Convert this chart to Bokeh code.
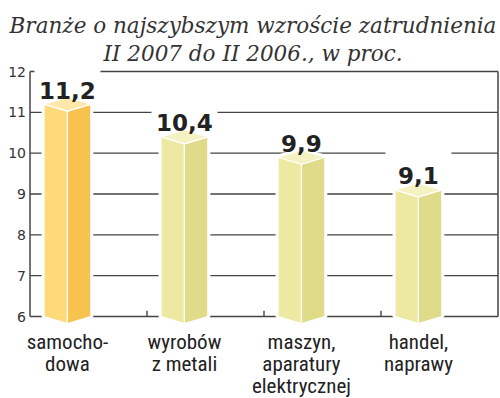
from bokeh.plotting import figure
from bokeh.models import Range1d
from bokeh.core.properties import value
from bokeh.embed import file_html
from bokeh.resources import INLINE

# ---- data ----
title_lines = ["Branże o najszybszym wzroście zatrudnienia", "II 2007 do II 2006., w proc."]
categories = ["samocho-\ndowa", "wyrobów\nz metali", "maszyn,\naparatury\nelektrycznej", "handel,\nnaprawy"]
values = [11.2, 10.4, 9.9, 9.1]
value_labels = ["11,2", "10,4", "9,9", "9,1"]
y_ticks = [6, 7, 8, 9, 10, 11, 12]
y_tick_labels = ["6", "7", "8", "9", "10", "11", "12"]
y_base = 6

# ---- styling / layout ----
left_cols = ["#FFD97A", "#EDE9A2", "#EDE9A2", "#EDE9A2"]
right_cols = ["#F8C24E", "#DFDB88", "#DFDB88", "#DFDB88"]
top_cols = ["#FFE8A8", "#F5F2C2", "#F5F2C2", "#F5F2C2"]
LINE = "#444444"

W, H = 500, 398
PPU_X = 117.0            # pixels per category
PPU_Y = 245 / 6.0        # pixels per unit
XL_WIN = 29.5            # x of category 0 edge
Y6_WIN = 316.0           # y of value 6


def dx(px):
    return (px - XL_WIN) / PPU_X


def dy(py):
    return y_base + (Y6_WIN - py) / PPU_Y


p = figure(width=W, height=H, output_backend="svg", toolbar_location=None,
           x_range=Range1d(dx(0), dx(W)), y_range=Range1d(dy(H), dy(0)),
           min_border=0)
p.outline_line_color = None
p.background_fill_color = "white"
p.border_fill_color = "white"
p.xaxis.visible = False
p.yaxis.visible = False
p.grid.visible = False

n = len(values)

# gridlines
p.segment(x0=[0] * len(y_ticks), y0=y_ticks, x1=[n] * len(y_ticks), y1=y_ticks,
          line_color=LINE, line_width=1.4)
# frame side lines and category separators
p.segment(x0=[0, n], y0=[y_base, y_base], x1=[0, n], y1=[y_ticks[-1], y_ticks[-1]],
          line_color=LINE, line_width=1.5)
seps = list(range(1, n))
p.segment(x0=seps, y0=[y_base] * len(seps), x1=seps, y1=[y_base + 5.7 / PPU_Y] * len(seps),
          line_color=LINE, line_width=1.4)

# y tick labels
p.text(x=[dx(25.5)] * len(y_ticks), y=y_ticks, text=y_tick_labels, text_align="right",
       text_baseline="middle", text_font=value("DejaVu Sans"), text_font_size="14px",
       text_color="#333333")

# 3D bars
w = 0.2
d = 7 / PPU_Y
centers = [i + 0.32 for i in range(n)]
halo_x, halo_y, lx, ly, rx, ry, tx, ty = [], [], [], [], [], [], [], []
for c, v in zip(centers, values):
    halo_x.append([c - w, c, c + w, c + w, c, c - w])
    halo_y.append([y_base, y_base - d, y_base, v, v + d, v])
    lx.append([c - w, c, c, c - w])
    ly.append([y_base, y_base - d, v - d, v])
    rx.append([c, c + w, c + w, c])
    ry.append([y_base - d, y_base, v, v - d])
    tx.append([c - w, c, c + w, c])
    ty.append([v, v - d, v, v + d])

p.patches(halo_x, halo_y, fill_color="white", line_color="white", line_width=5)
p.patches(lx, ly, fill_color=left_cols, line_color="white", line_width=1.2)
p.patches(rx, ry, fill_color=right_cols, line_color="white", line_width=1.2)
p.patches(tx, ty, fill_color=top_cols, line_color="white", line_width=1.2)

# value labels with white box behind
lab_y = [v + 14 / PPU_Y for v in values]
box_y = [v + 24 / PPU_Y for v in values]
p.rect(x=centers, y=box_y, width=66, height=28, width_units="screen", height_units="screen",
       fill_color="white", line_color=None)
p.text(x=centers, y=lab_y, text=value_labels, text_align="center", text_baseline="alphabetic",
       text_font=value("DejaVu Sans"), text_font_style="bold", text_font_size="23px",
       text_color="#222222")

# title
p.text(x=[dx(252.5)] * len(title_lines), y=[dy(25), dy(53)], text=title_lines,
       text_align="center", text_baseline="alphabetic", text_font=value("DejaVu Serif"),
       text_font_style="italic", text_font_size="21.5px", text_color="#333333")

# category labels
cx, cy, ct = [], [], []
for c, cat in zip(centers, categories):
    for j, line in enumerate(cat.split("\n")):
        cx.append(c)
        cy.append(dy(341 + 22 * j))
        ct.append(line)
p.text(x=cx, y=cy, text=ct, text_align="center", text_baseline="alphabetic",
       text_font=value("Roboto Condensed, DejaVu Sans Condensed, Roboto"), text_font_size="21px",
       text_color="#222222")

open("out.html", "w").write(file_html(p, INLINE))
